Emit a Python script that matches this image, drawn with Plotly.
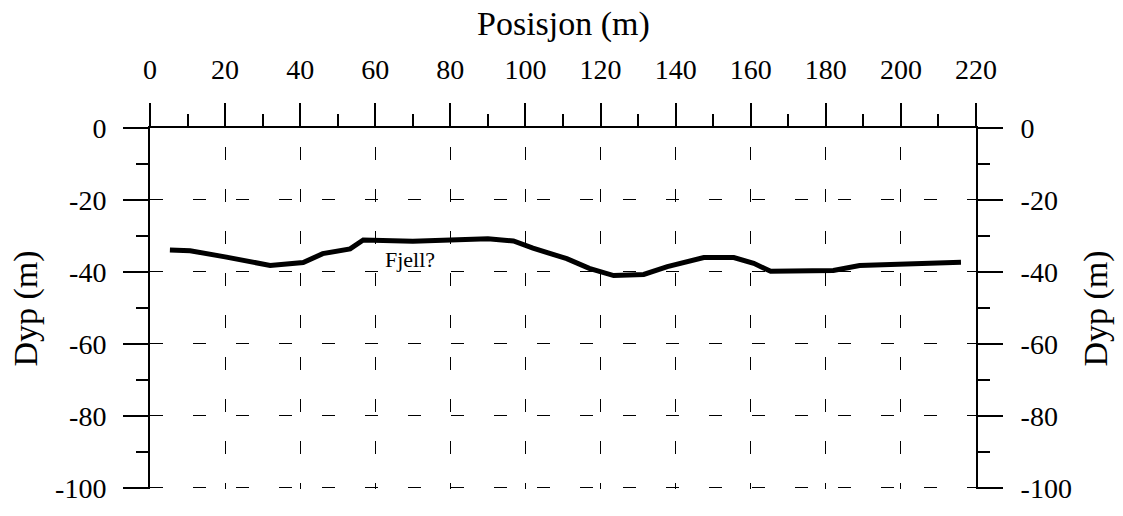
import plotly.graph_objects as go

pos = [5.3, 10.7, 20, 32, 40.8, 46, 53.3, 56.8, 70, 80, 90, 96.8, 102, 111, 117, 123.5, 131.5, 137.8, 147.5, 155.5, 160.8, 165.3, 182, 189, 200, 216]
dyp = [-33.9, -34.1, -35.8, -38.2, -37.4, -34.9, -33.6, -31.1, -31.5, -31.3, -30.8, -31.4, -33.4, -36.3, -39.0, -41.0, -40.7, -38.5, -36.0, -36.0, -37.6, -39.8, -39.6, -38.2, -37.8, -37.3]
x_ticks = [0, 20, 40, 60, 80, 100, 120, 140, 160, 180, 200, 220]
y_ticks = [0, -20, -40, -60, -80, -100]
y_labels = ["0", "-20", "-40", "-60", "-80", "-100"]

FONT = "Liberation Serif, Times New Roman, serif"
tickfont = dict(family=FONT, size=28, color="black")
titlefont = dict(family=FONT, size=34, color="black")

fig = go.Figure()
fig.add_trace(go.Scatter(x=pos, y=dyp, mode="lines", line=dict(color="black", width=5), showlegend=False))
fig.add_trace(go.Scatter(x=[None], y=[None], yaxis="y2", showlegend=False))
fig.add_annotation(x=69.3, y=-36.4, text="Fjell?", showarrow=False, font=dict(family=FONT, size=22, color="black"))
fig.add_annotation(x=0.5, y=1.287, xref="paper", yref="paper", text="Posisjon (m)", showarrow=False,
                   yanchor="middle", font=titlefont)

yr = [-100.3, 0]
fig.update_layout(
    width=1123, height=516, margin=dict(l=150, r=147, t=128, b=15),
    paper_bgcolor="white", plot_bgcolor="white",
    font=dict(family=FONT, size=28, color="black"),
    xaxis=dict(side="top", range=[0, 220], tickmode="array", tickvals=x_ticks, tickfont=tickfont,
               ticks="outside", ticklen=23, tickwidth=2, tickcolor="black", ticklabelstandoff=13,
               showline=True, linecolor="black", linewidth=2, zeroline=False,
               showgrid=True, gridcolor="black", gridwidth=1, griddash="0px,19px,13px,10px",
               minor=dict(ticks="outside", ticklen=12, tickwidth=2, tickcolor="black", dtick=10, showgrid=False)),
    yaxis=dict(range=yr, tickmode="array", tickvals=y_ticks, ticktext=y_labels, tickfont=tickfont,
               ticks="outside", ticklen=25, tickwidth=2, tickcolor="black", ticklabelstandoff=11,
               showline=True, linecolor="black", linewidth=2, zeroline=False,
               showgrid=True, gridcolor="black", gridwidth=1, griddash="13px,30px",
               minor=dict(ticks="outside", ticklen=12, tickwidth=2, tickcolor="black", dtick=10, tick0=0, showgrid=False),
               title=dict(text="Dyp (m)", font=titlefont, standoff=7)),
    yaxis2=dict(range=yr, overlaying="y", side="right", tickmode="array", tickvals=y_ticks, ticktext=y_labels, tickfont=tickfont,
                ticks="outside", ticklen=25, tickwidth=2, tickcolor="black", ticklabelstandoff=12,
                showline=True, linecolor="black", linewidth=2, zeroline=False, showgrid=False,
                minor=dict(ticks="outside", ticklen=12, tickwidth=2, tickcolor="black", dtick=10, tick0=0, showgrid=False),
                title=dict(text="Dyp (m)", font=titlefont, standoff=12)),
)
fig.write_html("out.html")
